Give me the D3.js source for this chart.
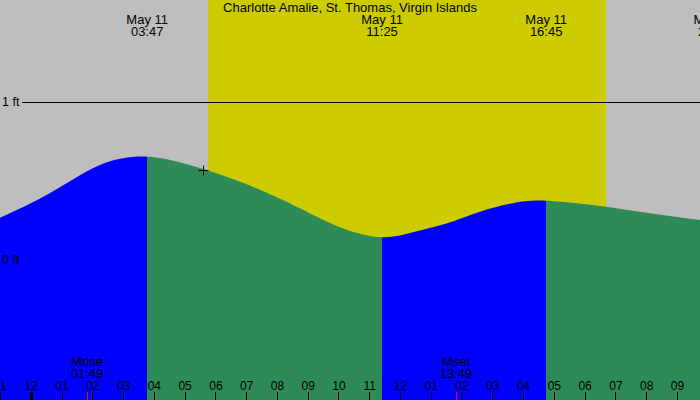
<!DOCTYPE html>
<html>
<head>
<meta charset="utf-8">
<script src="https://cdn.jsdelivr.net/npm/d3@7"></script>
<style>
  body { margin: 0; background: #ffffff; }
  svg text { font-family: "Liberation Sans", Arial, sans-serif; fill: #000; }
</style>
</head>
<body>
<div class="graph-section"></div>
<script>
// ---- data ----
var title = "Charlotte Amalie, St. Thomas, Virgin Islands";
var viewRange = ["2020-05-10 23:00", "2020-05-11 21:45"];

// curve readings (time, height in ft)
var tideTimes = ["2020-05-10 23:00", "2020-05-11 00:37", "2020-05-11 02:15", "2020-05-11 03:47",
                 "2020-05-11 05:10", "2020-05-11 06:48", "2020-05-11 08:25", "2020-05-11 10:03",
                 "2020-05-11 11:25", "2020-05-11 12:25", "2020-05-11 13:32", "2020-05-11 14:36",
                 "2020-05-11 15:40", "2020-05-11 16:45", "2020-05-11 18:30", "2020-05-11 20:08",
                 "2020-05-11 21:45"];
var tideHeights = [0.268, 0.422, 0.601, 0.654,
                   0.601, 0.496, 0.359, 0.207,
                   0.144, 0.175, 0.232, 0.306,
                   0.359, 0.375, 0.342, 0.296,
                   0.253];

// high / low tides
var extremeTimes = ["2020-05-11 03:47", "2020-05-11 11:25", "2020-05-11 16:45", "2020-05-11 22:13"];
var extremeTypes = ["high", "low", "high", "low"];

var sunTimes = ["2020-05-11 05:46", "2020-05-11 18:42"];

var moonLabels = ["Mrise", "Mset"];
var moonTimes = ["2020-05-11 01:49", "2020-05-11 13:49"];

var nowTime = "2020-05-11 05:36";
var nowHeight = 0.57;

var levelTicks = [0, 1];

// ---- drawing ----
var width = 700, height = 400;
var parse = d3.timeParse("%Y-%m-%d %H:%M");

var xScale = d3.scaleTime()
  .domain(viewRange.map(parse))
  .range([0, width]);

var yScale = d3.scaleLinear()
  .domain([0, 1])
  .range([260, 102]);

var svg = d3.select(".graph-section")
  .append("svg")
  .attr("width", width)
  .attr("height", height);

// night sky
svg.append("rect")
  .attr("width", width).attr("height", height)
  .attr("fill", "#bebebe");

// daylight
svg.append("rect")
  .attr("x", xScale(parse(sunTimes[0])))
  .attr("y", 0)
  .attr("width", xScale(parse(sunTimes[1])) - xScale(parse(sunTimes[0])))
  .attr("height", height)
  .attr("fill", "#cccc00");

// level lines (0 ft hidden under water)
svg.selectAll(".level")
  .data(levelTicks)
  .enter()
  .append("line")
  .attr("x1", 22).attr("x2", width)
  .attr("y1", function(d){ return yScale(d); })
  .attr("y2", function(d){ return yScale(d); })
  .attr("stroke", "#000")
  .attr("shape-rendering", "crispEdges");

// tide water
var tideData = tideTimes.map(function(t, i){ return {t: parse(t), h: tideHeights[i]}; });

var area = d3.area()
  .x(function(d){ return xScale(d.t); })
  .y0(height)
  .y1(function(d){ return yScale(d.h); })
  .curve(d3.curveNatural);

// segments between extremes: rising = blue, falling = green
var bounds = [xScale.domain()[0]].concat(extremeTimes.map(parse));
var segments = extremeTimes.map(function(t, i){
  return {from: bounds[i], to: bounds[i + 1], rising: extremeTypes[i] == "high"};
});

var defs = svg.append("defs");
segments.forEach(function(s, i){
  defs.append("clipPath")
    .attr("id", "seg" + i)
    .append("rect")
    .attr("x", Math.round(xScale(s.from)))
    .attr("y", 0)
    .attr("width", Math.round(xScale(s.to)) - Math.round(xScale(s.from)))
    .attr("height", height);
});

svg.selectAll(".water")
  .data(segments)
  .enter()
  .append("path")
  .classed("water", true)
  .attr("d", area(tideData))
  .attr("clip-path", function(d, i){ return "url(#seg" + i + ")"; })
  .attr("fill", function(d){ return d.rising ? "#0000ff" : "#2e8b57"; });

// level labels
svg.selectAll(".levelLabel")
  .data(levelTicks)
  .enter()
  .append("text")
  .attr("x", 2)
  .attr("y", function(d){ return yScale(d) + 4; })
  .style("font-size", "12.5px")
  .text(function(d){ return d + " ft"; });

// title
svg.append("text")
  .attr("x", 350).attr("y", 12)
  .attr("text-anchor", "middle")
  .style("font-size", "13px")
  .text(title);

// extreme labels
var fmtDay = d3.timeFormat("%b %d"), fmtHM = d3.timeFormat("%H:%M");
var extLabels = svg.selectAll(".ext")
  .data(extremeTimes.map(parse))
  .enter()
  .append("g")
  .attr("transform", function(d){ return "translate(" + xScale(d) + ",0)"; });
extLabels.append("text")
  .attr("y", 24).attr("text-anchor", "middle").style("font-size", "13px")
  .text(function(d){ return fmtDay(d); });
extLabels.append("text")
  .attr("y", 36).attr("text-anchor", "middle").style("font-size", "13px")
  .text(function(d){ return fmtHM(d); });

// now marker
var nx = Math.round(xScale(parse(nowTime))) + 0.5, ny = Math.round(yScale(nowHeight)) + 0.5;
svg.append("path")
  .attr("d", "M" + (nx - 5) + "," + ny + "H" + (nx + 5) + "M" + nx + "," + (ny - 5) + "V" + (ny + 5))
  .attr("stroke", "#000");

// moon labels
var moon = svg.selectAll(".moon")
  .data(moonTimes.map(parse))
  .enter()
  .append("g")
  .attr("transform", function(d){ return "translate(" + Math.round(xScale(d)) + ",0)"; });
moon.append("text")
  .attr("y", 366).attr("text-anchor", "middle").style("font-size", "13px")
  .text(function(d, i){ return moonLabels[i]; });
moon.append("text")
  .attr("y", 378).attr("text-anchor", "middle").style("font-size", "13px")
  .text(function(d){ return fmtHM(d); });
moon.append("line")
  .attr("x1", 0.5).attr("x2", 0.5)
  .attr("y1", 392).attr("y2", height)
  .attr("stroke", "#ff0000");

// hour axis
var xAxis = d3.axisBottom()
  .scale(xScale)
  .ticks(d3.timeHour.every(1))
  .tickFormat(d3.timeFormat("%I"))
  .tickSize(8);

var axisG = svg.append("g")
  .attr("transform", "translate(0,392)")
  .call(xAxis);
axisG.select(".domain").remove();
axisG.selectAll("line")
  .attr("stroke", "#000")
  .attr("stroke-width", function(d){ return d.getHours() == 0 ? 3 : 1; })
  .attr("shape-rendering", "crispEdges");
axisG.selectAll("text")
  .attr("y", -2).attr("dy", 0)
  .attr("fill", "#000")
  .style("font-family", "'Liberation Sans', Arial, sans-serif")
  .style("font-size", "12px");
</script>
</body>
</html>
